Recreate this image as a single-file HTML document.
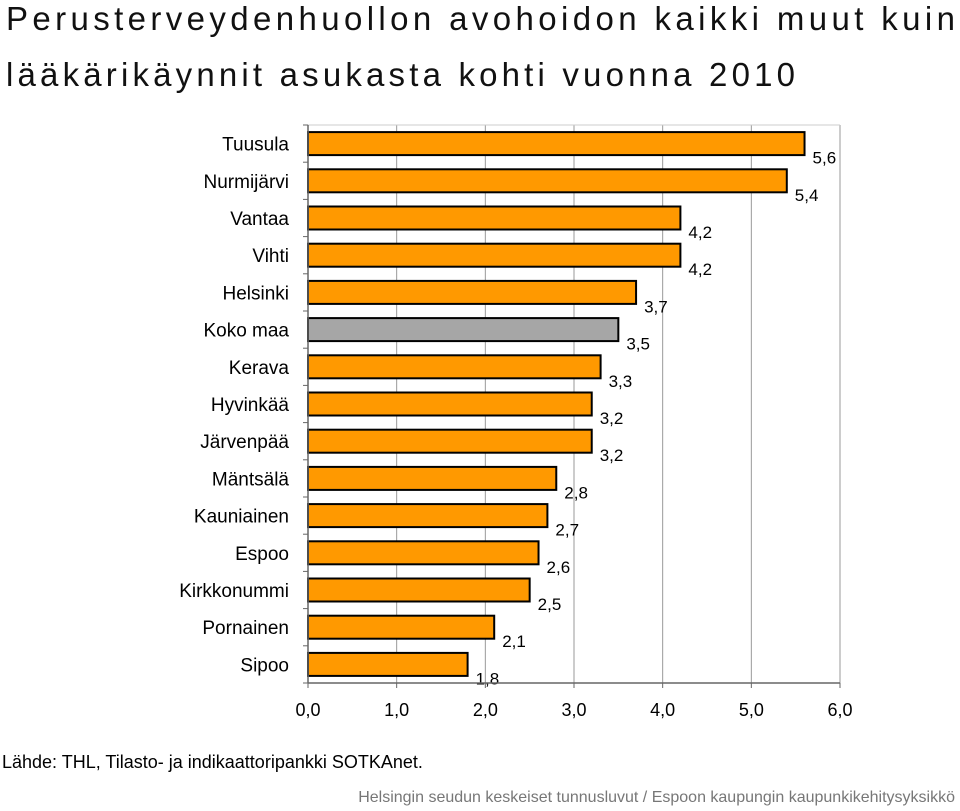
<!DOCTYPE html>
<html><head><meta charset="utf-8"><style>
body{margin:0;background:#fff;font-family:"Liberation Sans",sans-serif;}
svg text{font-family:"Liberation Sans",sans-serif;}
</style></head><body>
<svg width="960" height="806" xmlns="http://www.w3.org/2000/svg">
<text x="6" y="30" font-size="33" fill="#111" textLength="949" lengthAdjust="spacing">Perusterveydenhuollon avohoidon kaikki muut kuin</text>
<text x="6" y="86" font-size="33" fill="#111" textLength="789" lengthAdjust="spacing">lääkärikäynnit asukasta kohti vuonna 2010</text>
<g id="plot"></g>
<text x="2" y="768" font-size="18" fill="#000">Lähde: THL, Tilasto- ja indikaattoripankki SOTKAnet.</text>
<text x="955" y="802" font-size="16" fill="#777" text-anchor="end">Helsingin seudun keskeiset tunnusluvut / Espoon kaupungin kaupunkikehitysyksikkö</text>
</svg>
<script>
const categories=["Tuusula","Nurmijärvi","Vantaa","Vihti","Helsinki","Koko maa","Kerava","Hyvinkää","Järvenpää","Mäntsälä","Kauniainen","Espoo","Kirkkonummi","Pornainen","Sipoo"];
const values=[5.6,5.4,4.2,4.2,3.7,3.5,3.3,3.2,3.2,2.8,2.7,2.6,2.5,2.1,1.8];
const valueLabels=["5,6","5,4","4,2","4,2","3,7","3,5","3,3","3,2","3,2","2,8","2,7","2,6","2,5","2,1","1,8"];
const xTicks=[0,1,2,3,4,5,6];
const xTickLabels=["0,0","1,0","2,0","3,0","4,0","5,0","6,0"];
const highlight="Koko maa";
const NS="http://www.w3.org/2000/svg";
const g=document.getElementById('plot');
const x0=308,x1=840,plotTop=125,plotBottom=683;
const xs=v=>x0+(v-0)/(6-0)*(x1-x0);
const band=(plotBottom-plotTop)/categories.length;
const ys=i=>plotTop+i*band;
function el(t,a){const e=document.createElementNS(NS,t);for(const k in a)e.setAttribute(k,a[k]);g.appendChild(e);return e;}
xTicks.forEach((t,i)=>{
 if(t>0){const l=el('line',{x1:xs(t),x2:xs(t),y1:plotTop,y2:plotBottom,stroke:'#999','stroke-width':1});
 
 }
 const tx=el('text',{x:xs(t),y:plotBottom+33,'font-size':18,'text-anchor':'middle',fill:'#000'});tx.textContent=xTickLabels[i];
 
 
});
const tl=el('line',{x1:x0,x2:x1,y1:plotTop,y2:plotTop,stroke:'#ccc','stroke-width':1});


for(let i=0;i<=categories.length;i++){
 const t=el('line',{x1:x0-5,x2:x0,y1:ys(i),y2:ys(i),stroke:'#666'});
 
 
}
categories.forEach((c,i)=>{
 const yc=ys(i)+band/2;
 const r=el('rect',{x:x0,y:yc-11.5,width:xs(values[i])-x0,height:23,fill:c===highlight?'#a6a6a6':'#ff9900',stroke:'#000','stroke-width':2});
 
 
 const lb=el('text',{x:289,y:yc+7,'font-size':19,'text-anchor':'end',fill:'#000'});lb.textContent=c;
 
 
 const vl=el('text',{x:xs(values[i])+8,y:yc+20,'font-size':17,fill:'#000'});vl.textContent=valueLabels[i];
 
 
});
const ax=el('line',{x1:x0,x2:x0,y1:plotTop,y2:plotBottom,stroke:'#666','stroke-width':1.5});


const bx=el('line',{x1:x0,x2:x1,y1:plotBottom,y2:plotBottom,stroke:'#666','stroke-width':1.5});


xTicks.forEach(t=>{const k=el('line',{x1:xs(t),x2:xs(t),y1:plotBottom,y2:plotBottom+5,stroke:'#666'});
 
 });
</script>
</body></html>
